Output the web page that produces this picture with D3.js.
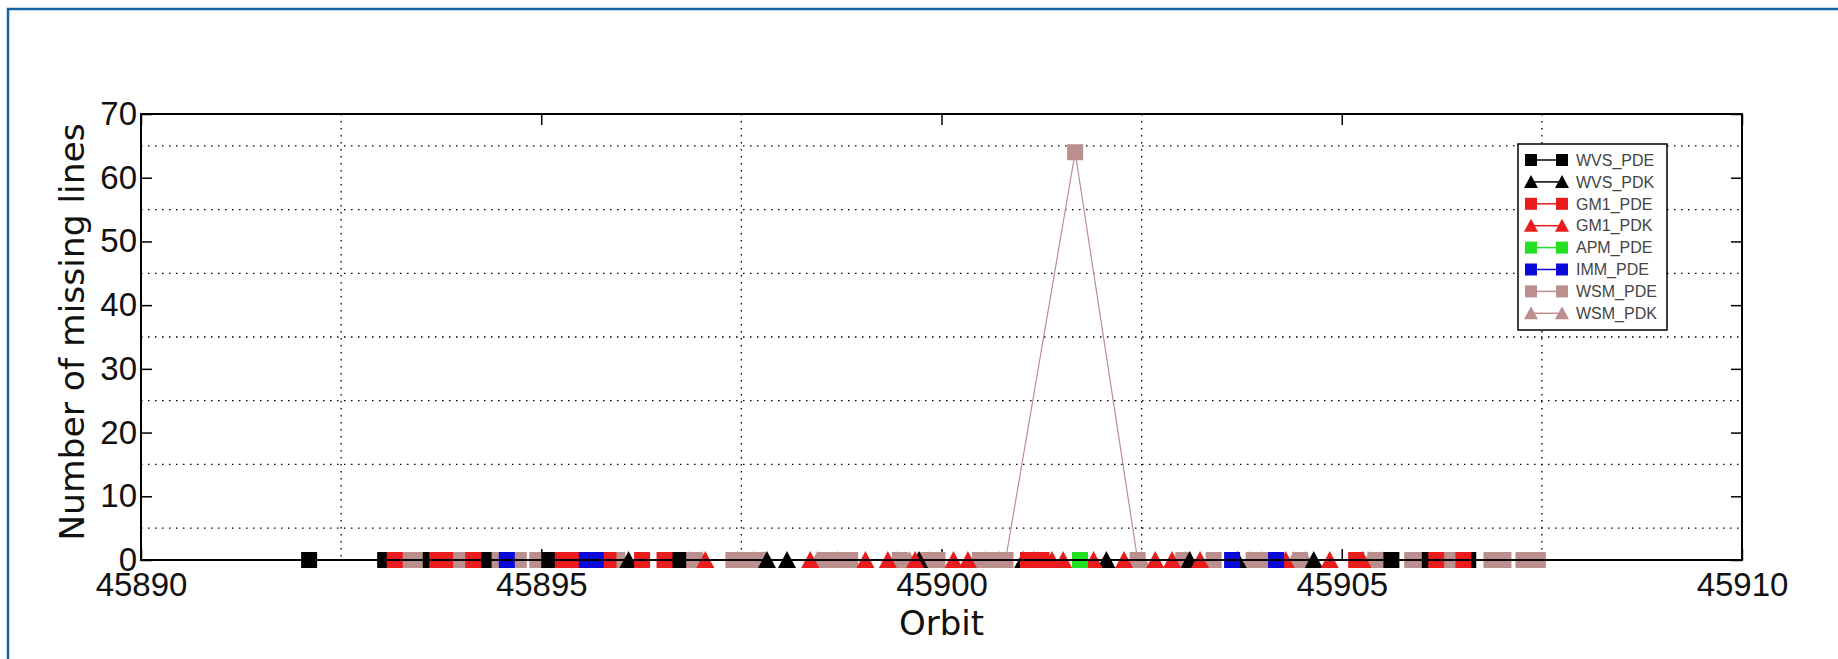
<!DOCTYPE html>
<html><head><meta charset="utf-8">
<script src="https://cdn.jsdelivr.net/npm/d3@7"></script>
<style>body{margin:0;background:#fff;}svg{display:block}</style>
</head><body><svg id="c" width="1838" height="659"></svg>
<script>
// ---- tick labels / grid positions ----
const orbitTicks = [45890, 45895, 45900, 45905, 45910];
const orbitGrid = [45892.5, 45897.5, 45902.5, 45907.5];
const lineTicks = [0, 10, 20, 30, 40, 50, 60, 70];
const lineGrid = [5, 15, 25, 35, 45, 55, 65];

// ---- series ----
const seriesNames = ["WVS_PDE", "WVS_PDK", "GM1_PDE", "GM1_PDK", "APM_PDE", "IMM_PDE", "WSM_PDE", "WSM_PDK"];

const wvsPdeOrbit = [45892.10, 45893.05, 45893.62, 45894.28, 45895.10, 45896.71, 45905.62, 45906.10, 45906.58];
const wvsPdeLines = [0, 0, 0, 0, 0, 0, 0, 0, 0];

const wvsPdkOrbit = [45896.09, 45897.82, 45898.07, 45899.72, 45901.02, 45902.06, 45903.10, 45903.70, 45904.65];
const wvsPdkLines = [0, 0, 0, 0, 0, 0, 0, 0, 0];

const gm1PdeOrbit = [45893.17, 45893.70, 45893.80, 45894.15, 45895.27, 45895.40, 45895.84, 45896.26, 45896.54, 45901.08, 45901.25, 45905.18, 45906.18, 45906.52];
const gm1PdeLines = [0, 0, 0, 0, 0, 0, 0, 0, 0, 0, 0, 0, 0, 0];

const gm1PdkOrbit = [45897.05, 45898.36, 45899.05, 45899.33, 45899.67, 45900.15, 45900.33, 45901.15, 45901.38, 45901.52, 45901.90, 45902.28, 45902.67, 45902.88, 45903.23, 45904.30, 45904.85, 45905.26];
const gm1PdkLines = [0, 0, 0, 0, 0, 0, 0, 0, 0, 0, 0, 0, 0, 0, 0, 0, 0, 0];

const apmPdeOrbit = [45901.73];
const apmPdeLines = [0];

const immPdeOrbit = [45894.57, 45895.57, 45895.68, 45903.63, 45904.18];
const immPdeLines = [0, 0, 0, 0, 0];

const wsmPdeOrbit = [45893.30, 45893.46, 45893.98, 45894.38, 45894.50, 45894.72, 45894.95, 45895.95, 45896.90, 45897.40, 45897.57, 45897.71, 45898.55, 45898.73, 45898.86, 45899.48, 45899.80, 45899.95, 45900.48, 45900.65, 45900.80, 45901.67, 45902.45, 45903.02, 45903.40, 45903.90, 45904.05, 45904.48, 45905.42, 45905.56, 45905.88, 45906.02, 45906.36, 45906.87, 45907.02, 45907.27, 45907.45];
const wsmPdeLines = [0, 0, 0, 0, 0, 0, 0, 0, 0, 0, 0, 0, 0, 0, 0, 0, 0, 0, 0, 0, 0, 64, 0, 0, 0, 0, 0, 0, 0, 0, 0, 0, 0, 0, 0, 0, 0];

const wsmPdkOrbit = [45896.86, 45897.01, 45897.45, 45897.65, 45897.78, 45898.45, 45898.70, 45899.45, 45899.60, 45899.85, 45900.55, 45900.72, 45901.20, 45902.50, 45903.05, 45903.85, 45904.00, 45904.40, 45904.55, 45905.35, 45905.50];
const wsmPdkLines = [0, 0, 0, 0, 0, 0, 0, 0, 0, 0, 0, 0, 0, 0, 0, 0, 0, 0, 0, 0, 0];

const seriesColors = {WVS_PDE:"#000000", WVS_PDK:"#000000", GM1_PDE:"#e81c1c", GM1_PDK:"#e81c1c", APM_PDE:"#22e022", IMM_PDE:"#0a0ad8", WSM_PDE:"#bc8f8f", WSM_PDK:"#bc8f8f"};
const seriesMarkers = {WVS_PDE:"s", WVS_PDK:"t", GM1_PDE:"s", GM1_PDK:"t", APM_PDE:"s", IMM_PDE:"s", WSM_PDE:"s", WSM_PDK:"t"};

const series = [
  {name:"WVS_PDE", orbit:wvsPdeOrbit, lines:wvsPdeLines},
  {name:"WVS_PDK", orbit:wvsPdkOrbit, lines:wvsPdkLines},
  {name:"GM1_PDE", orbit:gm1PdeOrbit, lines:gm1PdeLines},
  {name:"GM1_PDK", orbit:gm1PdkOrbit, lines:gm1PdkLines},
  {name:"APM_PDE", orbit:apmPdeOrbit, lines:apmPdeLines},
  {name:"IMM_PDE", orbit:immPdeOrbit, lines:immPdeLines},
  {name:"WSM_PDE", orbit:wsmPdeOrbit, lines:wsmPdeLines},
  {name:"WSM_PDK", orbit:wsmPdkOrbit, lines:wsmPdkLines}
];
// drawing order: WSM behind the others
const drawOrder = ["WSM_PDK", "WSM_PDE", "WVS_PDE", "WVS_PDK", "GM1_PDE", "GM1_PDK", "APM_PDE", "IMM_PDE"];

// ---- layout ----
const svg = d3.select("#c");
const L = 141, R = 1742, T = 114, B = 560;
const x = d3.scaleLinear().domain([45890, 45910]).range([L, R]);
const y = d3.scaleLinear().domain([0, 70]).range([B, T]);
const FONT = "'Liberation Sans', Arial, sans-serif";
const TITLE_FONT = "'DejaVu Sans', sans-serif";

// outer figure border (continues past the right and bottom edges)
svg.append("rect").attr("x", 8).attr("y", 9).attr("width", 1900).attr("height", 700)
  .attr("fill", "#fff").attr("stroke", "#15639f").attr("stroke-width", 2.5);

// dotted grid
const grid = svg.append("g").attr("stroke", "#000").attr("stroke-width", 1.3).attr("stroke-dasharray", "1.5,5.5");
grid.selectAll("line.gy").data(lineGrid).join("line")
  .attr("x1", L).attr("x2", R).attr("y1", d => y(d)).attr("y2", d => y(d));
grid.selectAll("line.gx").data(orbitGrid).join("line")
  .attr("y1", T).attr("y2", B).attr("x1", d => x(d)).attr("x2", d => x(d));

// axes
function styleAxis(g) {
  g.select(".domain").remove();
  g.selectAll(".tick line").attr("stroke", "#000").attr("stroke-width", 1.5);
  g.selectAll(".tick text").attr("font-family", FONT).attr("font-size", 33).attr("fill", "#111");
}
svg.append("g").attr("transform", `translate(0,${B})`)
  .call(d3.axisBottom(x).tickValues(orbitTicks).tickFormat(d3.format("d")).tickSizeInner(-11).tickSizeOuter(0).tickPadding(13))
  .call(styleAxis);
svg.append("g").attr("transform", `translate(0,${T})`)
  .call(d3.axisTop(x).tickValues(orbitTicks).tickFormat("").tickSizeInner(-11).tickSizeOuter(0))
  .call(styleAxis);
svg.append("g").attr("transform", `translate(${L},0)`)
  .call(d3.axisLeft(y).tickValues(lineTicks).tickFormat(d3.format("d")).tickSizeInner(-11).tickSizeOuter(0).tickPadding(4))
  .call(styleAxis);
svg.append("g").attr("transform", `translate(${R},0)`)
  .call(d3.axisRight(y).tickValues(lineTicks).tickFormat("").tickSizeInner(-11).tickSizeOuter(0))
  .call(styleAxis);

// axis titles
svg.append("text").attr("x", (L + R) / 2).attr("y", 635).attr("text-anchor", "middle")
  .attr("font-family", TITLE_FONT).attr("font-size", 34).attr("fill", "#111").text("Orbit");
svg.append("text").attr("transform", `translate(84,332) rotate(-90)`).attr("text-anchor", "middle")
  .attr("font-family", TITLE_FONT).attr("font-size", 34.5).attr("fill", "#111").text("Number of missing lines");

// marker helper
function marker(sel, type, color, size) {
  const h = size / 2;
  if (type === "s") {
    sel.append("rect").attr("x", -h).attr("y", -h).attr("width", size).attr("height", size)
      .attr("fill", color);
  } else {
    sel.append("path").attr("d", `M0,${-h - 1}L${h + 1},${h}L${-h - 1},${h}Z`).attr("fill", color);
  }
}

const plot = svg.append("g");
const byName = Object.fromEntries(series.map(s => [s.name, s]));
drawOrder.forEach(name => {
  const s = byName[name];
  const pts = s.orbit.map((o, i) => ({o, v: s.lines[i]}));
  const col = seriesColors[name];
  const g = plot.append("g");
  g.append("path").datum(pts)
    .attr("d", d3.line().x(d => x(d.o)).y(d => y(d.v)))
    .attr("fill", "none").attr("stroke", col).attr("stroke-width", 1.2);
  g.selectAll("g.m").data(pts).join("g")
    .attr("transform", d => `translate(${x(d.o)},${y(d.v)})`)
    .each(function () { marker(d3.select(this), seriesMarkers[name], col, 16); });
});

// frame
svg.append("rect").attr("x", L).attr("y", T).attr("width", R - L).attr("height", B - T)
  .attr("fill", "none").attr("stroke", "#000").attr("stroke-width", 2);

// legend
const lg = svg.append("g");
lg.append("rect").attr("x", 1518).attr("y", 144).attr("width", 149).attr("height", 186)
  .attr("fill", "#fff").attr("stroke", "#000").attr("stroke-width", 1.5);
seriesNames.forEach((name, i) => {
  const yy = 160 + i * 21.9;
  const col = seriesColors[name];
  const row = lg.append("g").attr("transform", `translate(0,${yy})`);
  row.append("line").attr("x1", 1531).attr("x2", 1562).attr("y1", 0).attr("y2", 0).attr("stroke", col).attr("stroke-width", 1.5);
  marker(row.append("g").attr("transform", "translate(1531,0)"), seriesMarkers[name], col, 12);
  marker(row.append("g").attr("transform", "translate(1562,0)"), seriesMarkers[name], col, 12);
  row.append("text").attr("x", 1576).attr("y", 0).attr("dy", "0.36em")
    .attr("font-family", FONT).attr("font-size", 16).attr("fill", "#444").text(name);
});
</script></body></html>
